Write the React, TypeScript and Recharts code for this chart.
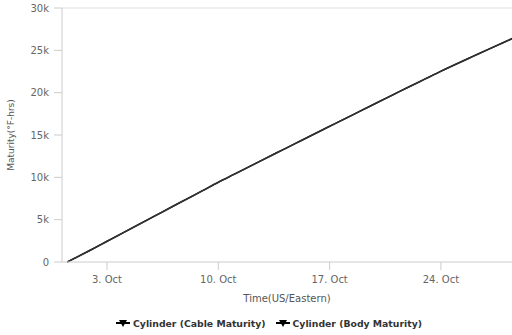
import React from "react";
import { LineChart, Line, XAxis, YAxis, ReferenceLine, Legend } from "recharts";

const days = [0.5, 1, 2, 3, 4, 5, 6, 7, 8, 9, 10, 11, 12, 13, 14, 15, 16, 17, 18, 19, 20, 21, 22, 23, 24, 25, 26, 27, 28, 28.5];
const cableMaturity = [0, 480, 1450, 2450, 3450, 4450, 5440, 6440, 7430, 8420, 9420, 10370, 11320, 12270, 13210, 14150, 15090, 16030, 16970, 17900, 18840, 19770, 20700, 21620, 22540, 23420, 24280, 25140, 25990, 26410];
const bodyMaturity = [0, 470, 1440, 2430, 3430, 4430, 5420, 6420, 7410, 8400, 9400, 10350, 11300, 12250, 13190, 14130, 15070, 16010, 16950, 17880, 18820, 19750, 20680, 21600, 22520, 23400, 24260, 25120, 25970, 26390];
const xTicks = [3, 10, 17, 24];
const yTicks = [0, 5000, 10000, 15000, 20000, 25000, 30000];
const seriesNames = ["Cylinder (Cable Maturity)", "Cylinder (Body Maturity)"];

const data = days.map((d, i) => ({ day: d, cable: cableMaturity[i], body: bodyMaturity[i] }));

const FONT = "'DejaVu Sans', Verdana, sans-serif";

const LegendContent = () => (
  <div style={{ display: "flex", justifyContent: "center", alignItems: "center", fontFamily: FONT, fontSize: 9.3, fontWeight: "bold", color: "#333", height: 28, paddingTop: 4, boxSizing: "border-box", paddingLeft: 26 }}>
    {seriesNames.map((n, i) => (
      <span key={n} style={{ display: "inline-flex", alignItems: "center", marginRight: i === 0 ? 10 : 0 }}>
        <svg width={14} height={10} style={{ marginRight: 3 }}>
          <line x1={0} y1={5} x2={14} y2={5} stroke="#000" strokeWidth={2} />
          <path d="M3,2 L11,2 L7,9 Z" fill="#000" />
        </svg>
        {n}
      </span>
    ))}
  </div>
);

export default function App() {
  return (
    <div style={{ position: "absolute", left: 0, top: 0, background: "#fff" }}>
      <LineChart width={512} height={335} data={data} margin={{ top: 8, right: 0, left: 0, bottom: 0 }}>
        <XAxis
          dataKey="day"
          type="number"
          domain={[0.17, 28.47]}
          allowDataOverflow
          ticks={xTicks}
          tickFormatter={(d: number) => `${d}. Oct`}
          height={45}
          tickSize={8}
          tickMargin={6}
          stroke="#ccc"
          tick={{ fill: "#666", fontSize: 10, fontFamily: FONT }}
          label={{ value: "Time(US/Eastern)", position: "insideBottom", offset: 5, fill: "#555", fontSize: 10, fontFamily: FONT }}
        />
        <YAxis
          domain={[0, 30000]}
          ticks={yTicks}
          width={62}
          tickSize={8}
          tickMargin={5}
          stroke="#ccc"
          tickFormatter={(v: number) => (v === 0 ? "0" : `${v / 1000}k`)}
          tick={{ fill: "#666", fontSize: 10, fontFamily: FONT }}
          label={{ value: "Maturity(°F-hrs)", angle: -90, position: "insideLeft", offset: 11, style: { textAnchor: "middle" }, fill: "#555", fontSize: 9, fontFamily: FONT }}
        />
        <ReferenceLine y={30000} stroke="#ddd" />
        <Legend content={<LegendContent />} verticalAlign="bottom" height={28} />
        <Line type="monotone" dataKey="cable" stroke="#000" strokeWidth={1.5} dot={false} isAnimationActive={false} />
        <Line type="monotone" dataKey="body" stroke="#333" strokeWidth={1.5} dot={false} isAnimationActive={false} />
      </LineChart>
    </div>
  );
}
